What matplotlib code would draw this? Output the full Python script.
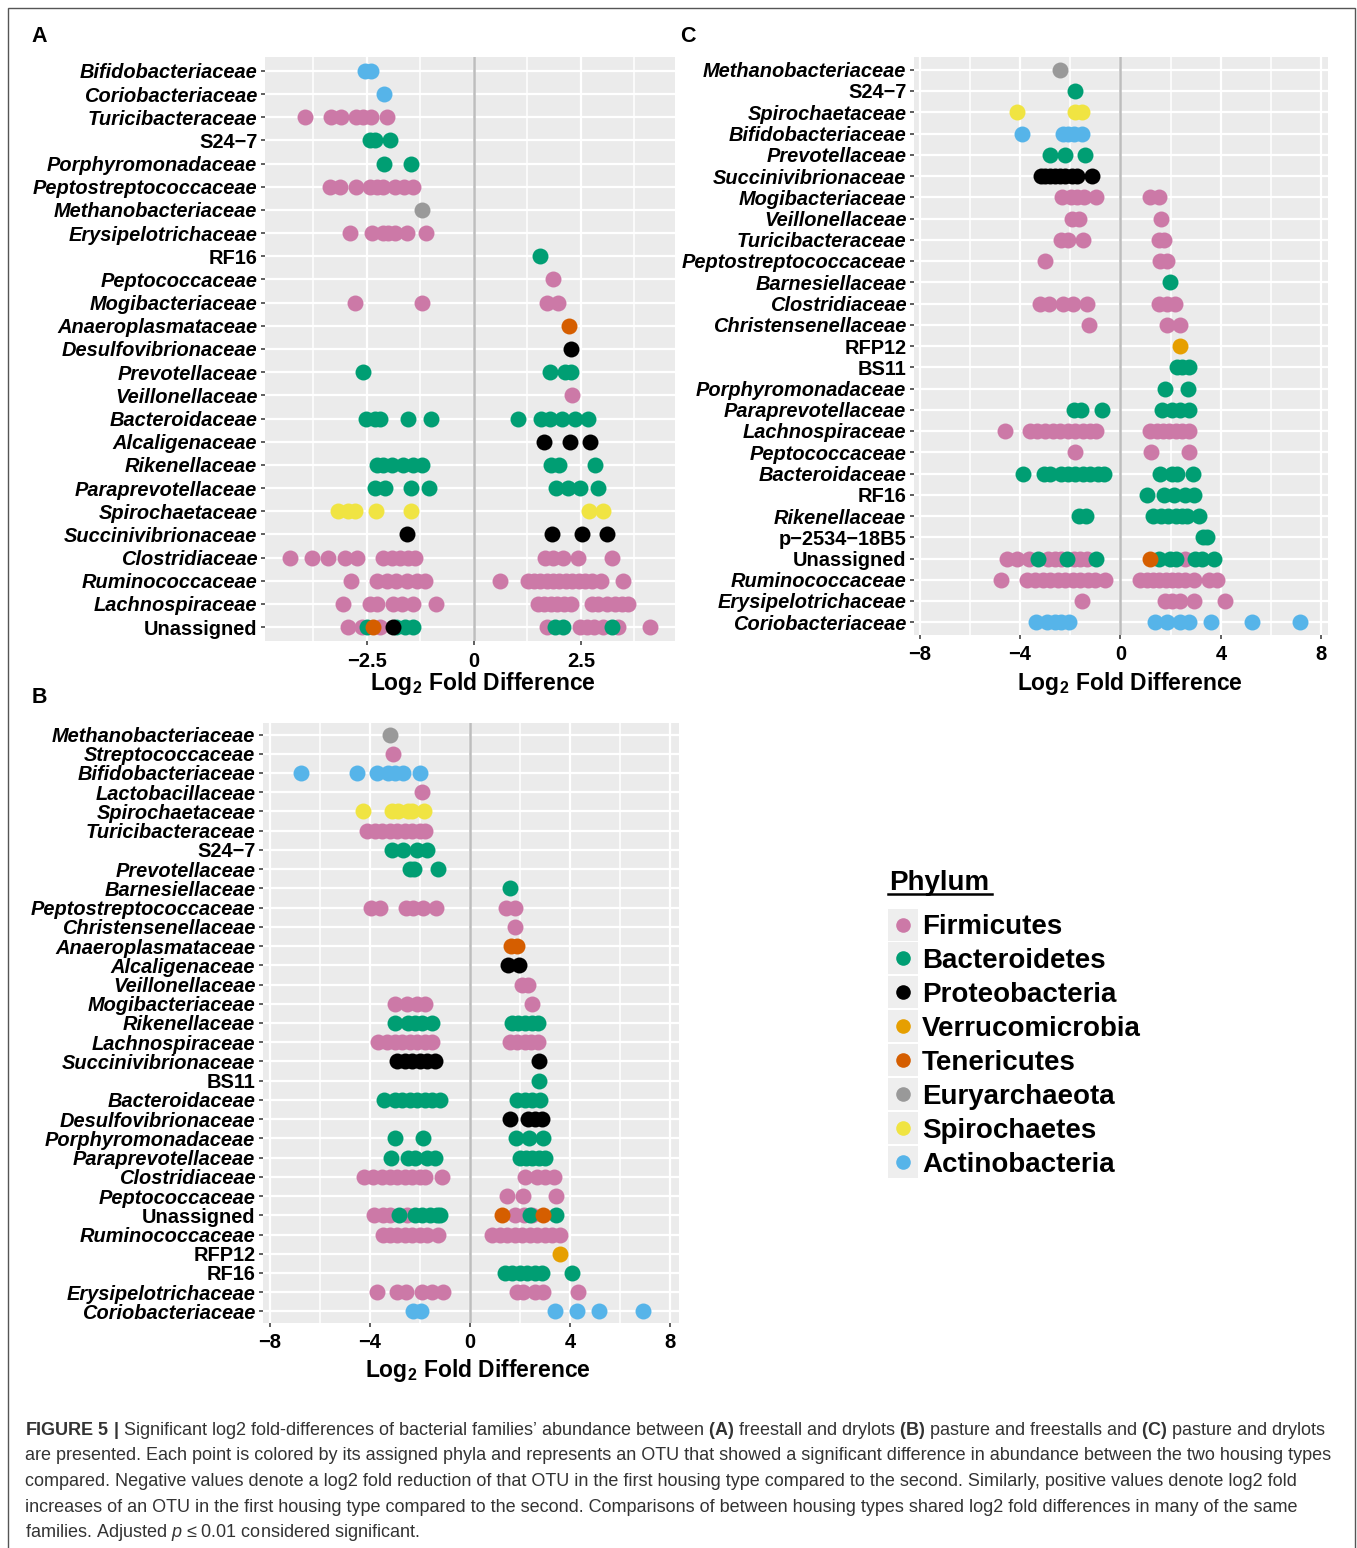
import matplotlib
matplotlib.use("Agg")
import matplotlib.pyplot as plt
from matplotlib.lines import Line2D
from matplotlib.patches import Rectangle

plt.rcParams["font.family"] = ["Liberation Sans", "DejaVu Sans"]
plt.rcParams["mathtext.fontset"] = "custom"
plt.rcParams["mathtext.rm"] = "Liberation Sans"
plt.rcParams["mathtext.bf"] = "Liberation Sans:bold"
plt.rcParams["mathtext.it"] = "Liberation Sans:italic"

PHYLA = ["Firmicutes", "Bacteroidetes", "Proteobacteria", "Verrucomicrobia",
         "Tenericutes", "Euryarchaeota", "Spirochaetes", "Actinobacteria"]
COLORS = ["#CC79A7", "#009E73", "#000000", "#E69F00",
          "#D55E00", "#999999", "#F0E442", "#56B4E9"]

# ---------------- panel A : freestall vs drylots ----------------
A_FAMILIES = ["Bifidobacteriaceae", "Coriobacteriaceae", "Turicibacteraceae", "S24\u22127",
              "Porphyromonadaceae", "Peptostreptococcaceae", "Methanobacteriaceae",
              "Erysipelotrichaceae", "RF16", "Peptococcaceae", "Mogibacteriaceae",
              "Anaeroplasmataceae", "Desulfovibrionaceae", "Prevotellaceae", "Veillonellaceae",
              "Bacteroidaceae", "Alcaligenaceae", "Rikenellaceae", "Paraprevotellaceae",
              "Spirochaetaceae", "Succinivibrionaceae", "Clostridiaceae", "Ruminococcaceae",
              "Lachnospiraceae", "Unassigned"]
A_FIRMICUTES = {
    "Turicibacteraceae": [-3.95, -3.33, -3.1, -2.75, -2.6, -2.4, -2.04],
    "Peptostreptococcaceae": [-3.36, -3.13, -2.76, -2.43, -2.27, -2.12, -1.85, -1.64, -1.42],
    "Erysipelotrichaceae": [-2.9, -2.38, -2.12, -2.0, -1.85, -1.57, -1.11],
    "Peptococcaceae": [1.85],
    "Mogibacteriaceae": [-2.78, -1.21, 1.7, 1.97],
    "Veillonellaceae": [2.3],
    "Clostridiaceae": [-4.3, -3.79, -3.4, -3.01, -2.74, -2.12, -1.92, -1.73, -1.53, -1.38,
                       1.66, 1.85, 2.09, 2.44, 3.22],
    "Ruminococcaceae": [-2.86, -2.27, -2.04, -1.81, -1.57, -1.34, -1.14, 0.62, 1.27, 1.4, 1.55,
                        1.7, 1.85, 2.0, 2.15, 2.3, 2.45, 2.6, 2.75, 2.98, 3.49],
    "Lachnospiraceae": [-3.05, -2.43, -2.27, -1.89, -1.69, -1.42, -0.89, 1.5, 1.65, 1.8, 1.95,
                        2.1, 2.28, 2.75, 2.9, 3.1, 3.3, 3.45, 3.61],
    "Unassigned": [-2.94, -2.62, -2.2, 1.7, 2.48, 2.65, 2.8, 3.02, 3.37, 4.11],
}
A_BACTEROIDETES = {
    "S24\u22127": [-2.43, -2.31, -1.96],
    "Porphyromonadaceae": [-2.1, -1.46],
    "RF16": [1.54],
    "Prevotellaceae": [-2.6, 1.79, 2.13, 2.28],
    "Bacteroidaceae": [-2.51, -2.31, -2.2, -1.53, -1.01, 1.04, 1.58, 1.78, 2.05, 2.36, 2.67],
    "Rikenellaceae": [-2.27, -2.12, -1.92, -1.65, -1.42, -1.2, 1.81, 2.0, 2.83],
    "Paraprevotellaceae": [-2.31, -2.08, -1.46, -1.04, 1.92, 2.21, 2.48, 2.89],
    "Unassigned": [-2.5, -1.81, -1.62, -1.42, 1.89, 2.09, 3.22],
}
A_PROTEOBACTERIA = {
    "Desulfovibrionaceae": [2.26],
    "Alcaligenaceae": [1.64, 2.24, 2.71],
    "Succinivibrionaceae": [-1.57, 1.83, 2.52, 3.1],
    "Unassigned": [-1.88],
}
A_VERRUCOMICROBIA = {}
A_TENERICUTES = {"Anaeroplasmataceae": [2.23], "Unassigned": [-2.35]}
A_EURYARCHAEOTA = {"Methanobacteriaceae": [-1.2]}
A_SPIROCHAETES = {"Spirochaetaceae": [-3.17, -2.94, -2.78, -2.29, -1.46, 2.69, 3.02]}
A_ACTINOBACTERIA = {"Bifidobacteriaceae": [-2.55, -2.4], "Coriobacteriaceae": [-2.1]}

# ---------------- panel B : pasture vs freestalls ----------------
B_FAMILIES = ["Methanobacteriaceae", "Streptococcaceae", "Bifidobacteriaceae", "Lactobacillaceae",
              "Spirochaetaceae", "Turicibacteraceae", "S24\u22127", "Prevotellaceae",
              "Barnesiellaceae", "Peptostreptococcaceae", "Christensenellaceae",
              "Anaeroplasmataceae", "Alcaligenaceae", "Veillonellaceae", "Mogibacteriaceae",
              "Rikenellaceae", "Lachnospiraceae", "Succinivibrionaceae", "BS11", "Bacteroidaceae",
              "Desulfovibrionaceae", "Porphyromonadaceae", "Paraprevotellaceae", "Clostridiaceae",
              "Peptococcaceae", "Unassigned", "Ruminococcaceae", "RFP12", "RF16",
              "Erysipelotrichaceae", "Coriobacteriaceae"]
B_FIRMICUTES = {
    "Streptococcaceae": [-3.09],
    "Lactobacillaceae": [-1.93],
    "Turicibacteraceae": [-4.11, -3.8, -3.5, -3.2, -2.9, -2.6, -2.3, -2.0, -1.8],
    "Peptostreptococcaceae": [-3.97, -3.6, -2.56, -2.27, -1.87, -1.36, 1.44, 1.8],
    "Christensenellaceae": [1.81],
    "Veillonellaceae": [2.07, 2.31],
    "Mogibacteriaceae": [-3.0, -2.53, -2.13, -1.8, 2.49],
    "Lachnospiraceae": [-3.67, -3.33, -3.0, -2.7, -2.4, -2.1, -1.8, -1.53,
                        1.6, 1.9, 2.2, 2.45, 2.73],
    "Clostridiaceae": [-4.24, -3.87, -3.5, -3.2, -2.9, -2.6, -2.3, -2.0, -1.8, -1.13,
                       2.2, 2.67, 3.0, 3.37],
    "Peptococcaceae": [1.49, 2.11, 3.44],
    "Unassigned": [-3.84, -3.47, -3.2, -2.53, 1.8, 2.15, 2.5],
    "Ruminococcaceae": [-3.47, -3.2, -2.9, -2.6, -2.3, -2.0, -1.7, -1.27,
                        0.87, 1.2, 1.5, 1.8, 2.1, 2.4, 2.7, 3.0, 3.3, 3.6],
    "Erysipelotrichaceae": [-3.71, -2.93, -2.56, -1.93, -1.53, -1.07, 1.87, 2.13, 2.6, 2.93, 4.33],
}
B_BACTEROIDETES = {
    "S24\u22127": [-3.13, -2.67, -2.13, -1.73],
    "Prevotellaceae": [-2.4, -2.24, -1.27],
    "Barnesiellaceae": [1.6],
    "Rikenellaceae": [-3.0, -2.47, -2.2, -1.93, -1.53, 1.67, 1.93, 2.2, 2.47, 2.73],
    "BS11": [2.77],
    "Bacteroidaceae": [-3.44, -3.0, -2.7, -2.4, -2.1, -1.8, -1.5, -1.2, 1.87, 2.2, 2.5, 2.8],
    "Porphyromonadaceae": [-3.0, -1.87, 1.84, 2.37, 2.93],
    "Paraprevotellaceae": [-3.17, -2.47, -2.2, -1.73, -1.4, 2.0, 2.25, 2.5, 2.75, 3.0],
    "Unassigned": [-2.83, -2.2, -1.9, -1.6, -1.3, -1.2, 2.4, 3.44],
    "RF16": [1.4, 1.7, 2.0, 2.3, 2.6, 2.87, 4.07],
}
B_PROTEOBACTERIA = {
    "Alcaligenaceae": [1.53, 1.97],
    "Succinivibrionaceae": [-2.93, -2.6, -2.3, -2.0, -1.7, -1.4, 2.77],
    "Desulfovibrionaceae": [1.6, 2.33, 2.6, 2.87],
}
B_VERRUCOMICROBIA = {"RFP12": [3.6]}
B_TENERICUTES = {"Anaeroplasmataceae": [1.63, 1.89], "Unassigned": [1.29, 2.91]}
B_EURYARCHAEOTA = {"Methanobacteriaceae": [-3.2]}
B_SPIROCHAETES = {"Spirochaetaceae": [-4.27, -3.13, -2.87, -2.47, -2.33, -1.84]}
B_ACTINOBACTERIA = {"Bifidobacteriaceae": [-6.77, -4.53, -3.71, -3.27, -3.0, -2.67, -2.0],
                    "Coriobacteriaceae": [-2.27, -1.96, 3.4, 4.27, 5.17, 6.91]}

# ---------------- panel C : pasture vs drylots ----------------
C_FAMILIES = ["Methanobacteriaceae", "S24\u22127", "Spirochaetaceae", "Bifidobacteriaceae",
              "Prevotellaceae", "Succinivibrionaceae", "Mogibacteriaceae", "Veillonellaceae",
              "Turicibacteraceae", "Peptostreptococcaceae", "Barnesiellaceae", "Clostridiaceae",
              "Christensenellaceae", "RFP12", "BS11", "Porphyromonadaceae", "Paraprevotellaceae",
              "Lachnospiraceae", "Peptococcaceae", "Bacteroidaceae", "RF16", "Rikenellaceae",
              "p\u22122534\u221218B5", "Unassigned", "Ruminococcaceae", "Erysipelotrichaceae",
              "Coriobacteriaceae"]
C_FIRMICUTES = {
    "Mogibacteriaceae": [-2.34, -1.99, -1.72, -1.46, -0.99, 1.19, 1.52],
    "Veillonellaceae": [-1.92, -1.66, 1.62],
    "Turicibacteraceae": [-2.38, -2.09, -1.48, 1.52, 1.72],
    "Peptostreptococcaceae": [-3.02, 1.59, 1.85],
    "Clostridiaceae": [-3.2, -2.85, -2.28, -1.88, -1.35, 1.52, 1.85, 2.15],
    "Christensenellaceae": [-1.26, 1.85, 2.36],
    "Lachnospiraceae": [-4.6, -3.6, -3.31, -3.0, -2.7, -2.4, -2.1, -1.8, -1.5, -1.2, -0.99,
                        1.19, 1.45, 1.7, 1.95, 2.2, 2.45, 2.72],
    "Peptococcaceae": [-1.83, 1.22, 2.72],
    "Unassigned": [-4.5, -4.11, -3.64, -2.9, -2.6, -2.38, -1.85, -1.6, -1.32, 2.58],
    "Ruminococcaceae": [-4.77, -3.71, -3.4, -3.1, -2.8, -2.5, -2.2, -1.9, -1.6, -1.3, -1.0, -0.6,
                        0.79, 1.05, 1.3, 1.55, 1.8, 2.05, 2.3, 2.55, 2.91, 3.51, 3.84],
    "Erysipelotrichaceae": [-1.52, 1.79, 2.05, 2.38, 2.91, 4.17],
}
C_BACTEROIDETES = {
    "S24\u22127": [-1.83],
    "Prevotellaceae": [-2.81, -2.21, -1.43],
    "Barnesiellaceae": [1.99],
    "BS11": [2.25, 2.45, 2.72],
    "Porphyromonadaceae": [1.79, 2.68],
    "Paraprevotellaceae": [-1.85, -1.59, -0.73, 1.66, 2.05, 2.38, 2.72],
    "Bacteroidaceae": [-3.87, -3.05, -2.8, -2.38, -2.1, -1.8, -1.5, -1.2, -0.9, -0.66,
                       1.59, 2.05, 2.25, 2.89],
    "RF16": [1.06, 1.72, 2.12, 2.58, 2.91],
    "Rikenellaceae": [-1.66, -1.39, 1.3, 1.6, 1.9, 2.2, 2.45, 2.65, 3.11],
    "p\u22122534\u221218B5": [3.28, 3.44],
    "Unassigned": [-3.28, -2.12, -0.99, 1.52, 1.99, 2.19, 2.98, 3.24, 3.71],
}
C_PROTEOBACTERIA = {"Succinivibrionaceae": [-3.18, -3.0, -2.8, -2.6, -2.4, -2.2, -1.95, -1.72, -1.13]}
C_VERRUCOMICROBIA = {"RFP12": [2.38]}
C_TENERICUTES = {"Unassigned": [1.19]}
C_EURYARCHAEOTA = {"Methanobacteriaceae": [-2.42]}
C_SPIROCHAETES = {"Spirochaetaceae": [-4.13, -1.83, -1.52]}
C_ACTINOBACTERIA = {"Bifidobacteriaceae": [-3.91, -2.29, -2.1, -1.85, -1.52],
                    "Coriobacteriaceae": [-3.38, -2.91, -2.6, -2.38, -2.05,
                                          1.39, 1.85, 2.38, 2.72, 3.62, 5.23, 7.15]}

CAPTION = [
    r"$\mathbf{FIGURE\ 5\ |}$ Significant log2 fold-differences of bacterial families’ abundance between "
    r"$\mathbf{(A)}$ freestall and drylots $\mathbf{(B)}$ pasture and freestalls and $\mathbf{(C)}$ pasture and drylots",
    "are presented. Each point is colored by its assigned phyla and represents an OTU that showed a "
    "significant difference in abundance between the two housing types",
    "compared. Negative values denote a log2 fold reduction of that OTU in the first housing type "
    "compared to the second. Similarly, positive values denote log2 fold",
    "increases of an OTU in the first housing type compared to the second. Comparisons of between "
    "housing types shared log2 fold differences in many of the same",
    r"families. Adjusted $\mathit{p}$ ≤ 0.01 considered significant.",
]

W, H = 1357, 1548
fig = plt.figure(figsize=(W / 100, H / 100), dpi=100)


def box(x0, y0, x1, y1):
    return [x0 / W, 1 - y1 / H, (x1 - x0) / W, (y1 - y0) / H]


def fx(x):
    return x / W


def fy(y):
    return 1 - y / H


def draw_panel(ax, families, groups, xlim, major, labels, minor, xpad):
    n = len(families)
    ypos = {f: n - i for i, f in enumerate(families)}
    ax.set_facecolor("#EBEBEB")
    for s in ax.spines.values():
        s.set_visible(False)
    ax.set_xlim(xlim)
    ax.set_ylim(0.4, n + 0.6)
    ax.set_xticks(major)
    ax.set_xticklabels(labels, fontsize=14.5, fontweight="bold")
    ax.set_xticks(minor, minor=True)
    ax.set_yticks(range(1, n + 1))
    ax.set_yticklabels(families[::-1], fontsize=14.4, fontweight="bold")
    for lab in ax.get_yticklabels():
        if lab.get_text().endswith("aceae"):
            lab.set_fontstyle("italic")
    ax.grid(True, which="major", color="white", lw=1.6)
    ax.grid(True, which="minor", axis="x", color="white", lw=1.1)
    ax.set_axisbelow(True)
    ax.tick_params(which="major", length=3, width=1.1, color="#333333", labelcolor="black")
    ax.tick_params(axis="y", pad=2.5)
    ax.tick_params(axis="x", pad=xpad)
    ax.tick_params(which="minor", length=0)
    ax.axvline(0, color="#BDBDBD", lw=1.8, zorder=1.5)
    for phylum, data in groups:
        col = COLORS[PHYLA.index(phylum)]
        for fam, vals in data.items():
            ax.scatter(vals, [ypos[fam]] * len(vals), s=132, color=col, lw=0, zorder=3)


def groups_of(fi, ba, pr, ve, te, eu, sp, ac):
    return list(zip(PHYLA, [fi, ba, pr, ve, te, eu, sp, ac]))


axA = fig.add_axes(box(265, 57, 675, 641))
draw_panel(axA, A_FAMILIES,
           groups_of(A_FIRMICUTES, A_BACTEROIDETES, A_PROTEOBACTERIA, A_VERRUCOMICROBIA,
                     A_TENERICUTES, A_EURYARCHAEOTA, A_SPIROCHAETES, A_ACTINOBACTERIA),
           (-4.88, 4.70), [-2.5, 0, 2.5], ["\u22122.5", "0", "2.5"],
           [-3.75, -1.25, 1.25, 3.75], 5)

axC = fig.add_axes(box(914, 57, 1328, 635))
draw_panel(axC, C_FAMILIES,
           groups_of(C_FIRMICUTES, C_BACTEROIDETES, C_PROTEOBACTERIA, C_VERRUCOMICROBIA,
                     C_TENERICUTES, C_EURYARCHAEOTA, C_SPIROCHAETES, C_ACTINOBACTERIA),
           (-8.22, 8.26), [-8, -4, 0, 4, 8], ["\u22128", "\u22124", "0", "4", "8"],
           [-6, -2, 2, 6], 4)

axB = fig.add_axes(box(263, 723, 679, 1323))
draw_panel(axB, B_FAMILIES,
           groups_of(B_FIRMICUTES, B_BACTEROIDETES, B_PROTEOBACTERIA, B_VERRUCOMICROBIA,
                     B_TENERICUTES, B_EURYARCHAEOTA, B_SPIROCHAETES, B_ACTINOBACTERIA),
           (-8.27, 8.36), [-8, -4, 0, 4, 8], ["\u22128", "\u22124", "0", "4", "8"],
           [-6, -2, 2, 6], 4)

# axis titles
for x, y in [(483, 690), (1130, 690), (478, 1377)]:
    fig.text(fx(x), fy(y), r"Log$_\mathbf{2}$ Fold Difference", fontsize=16.5,
             fontweight="bold", ha="center", va="baseline")

# panel letters
for letter, x, y in [("A", 31, 42), ("C", 680, 42), ("B", 32, 703)]:
    fig.text(fx(x), fy(y), letter, fontsize=15.5, fontweight="bold", va="baseline")

# legend
fig.text(fx(889), fy(890), "Phylum", fontsize=20, fontweight="bold", va="baseline")
fig.add_artist(Line2D([fx(888), fx(992)], [fy(894), fy(894)], color="black", lw=1.8))
for i, (name, col) in enumerate(zip(PHYLA, COLORS)):
    yc = 924.5 + 33.9 * i
    fig.add_artist(Rectangle((fx(888), fy(yc + 16)), 30 / W, 32 / H,
                             facecolor="#EEEEEE", edgecolor="none", transform=fig.transFigure))
    fig.add_artist(Line2D([fx(903)], [fy(yc)], marker="o", markersize=10.5,
                          markerfacecolor=col, markeredgewidth=0, linestyle="none"))
    fig.text(fx(922), fy(yc), name, fontsize=20, fontweight="bold", va="center_baseline")

# outer frame
fig.add_artist(Rectangle((fx(8), -0.01), (1355 - 8) / W, fy(8) + 0.01, fill=False,
                         edgecolor="#555555", lw=1.0, transform=fig.transFigure))

# caption
renderer = fig.canvas.get_renderer()
caps = []
for i, line in enumerate(CAPTION):
    t = fig.text(fx(25), fy(1435 + 25.5 * i), line, fontsize=14, color="#333333",
                 va="baseline", family=["Liberation Sans Narrow", "Liberation Sans", "DejaVu Sans"])
    caps.append(t)
w = caps[1].get_window_extent(renderer).width
for t in caps:
    t.set_fontsize(14 * 1312 / w)

fig.savefig("out.png", dpi=100)
